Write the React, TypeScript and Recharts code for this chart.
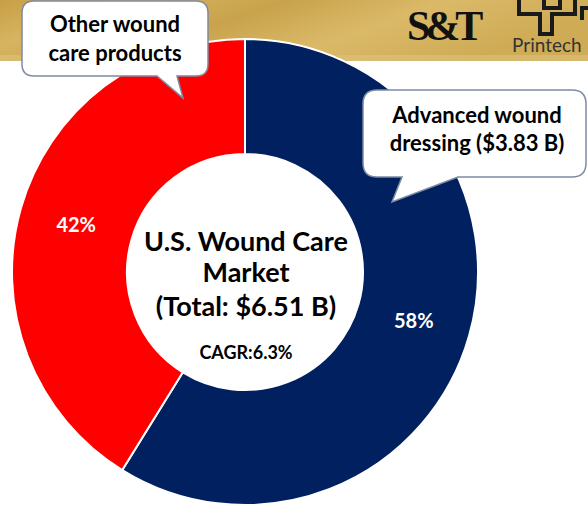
import { PieChart, Pie, Cell } from 'recharts';

// U.S. wound care market split, $ billions
const segments = ['Advanced wound dressing', 'Other wound care products'];
const values = [3.83, 2.68];
const pctLabels = ['58%', '42%'];
const colors = ['#002060', '#FF0000'];

const titleLines = ['U.S. Wound Care', 'Market', '(Total: $6.51 B)'];
const cagrText = 'CAGR:6.3%';
const otherCallout = ['Other wound', 'care products'];
const advCallout = ['Advanced wound', 'dressing ($3.83 B)'];

const data = segments.map((name, i) => ({ name, value: values[i], pct: pctLabels[i] }));

const RADIAN = Math.PI / 180;
const FONT = 'Lato, "Open Sans", sans-serif';

const renderPct = ({ cx, cy, midAngle, innerRadius, outerRadius, index }: any) => {
  const r = (innerRadius + outerRadius) / 2;
  const x = cx + r * Math.cos(-midAngle * RADIAN);
  const y = cy + r * Math.sin(-midAngle * RADIAN);
  return (
    <text x={x} y={y} fill="#fff" fontSize={20} fontWeight={700} fontFamily={FONT}
      textAnchor="middle" dominantBaseline="central">
      {data[index].pct}
    </text>
  );
};

const Header = () => (
  <svg width={588} height={506} style={{ position: 'absolute', left: 0, top: 0 }}>
    <defs>
      <linearGradient id="gold" x1="0" y1="0" x2="1" y2="0.3">
        <stop offset="0" stopColor="#C79F45" />
        <stop offset="0.2" stopColor="#D6B461" />
        <stop offset="0.45" stopColor="#C9A34C" />
        <stop offset="0.7" stopColor="#DAB968" />
        <stop offset="1" stopColor="#CFAB55" />
      </linearGradient>
    </defs>
    <rect x={0} y={0} width={588} height={61} fill="url(#gold)" />
    <rect x={0} y={55} width={588} height={6} fill="#DCC37E" opacity={0.6} />
    <text x={407} y={40} fontFamily='"Liberation Serif", serif' fontWeight={700} fontSize={42}
      letterSpacing={-5} fill="#111">S&amp;T</text>
    <g fill="none" stroke="#1a1a1a" strokeWidth={4}>
      <path d="M519 -2 V14 H540 V34 H552 V14 H575 V-2" />
      <path d="M544 -2 V8 H560 V-2" />
      <path d="M588 8 H582 V20" />
    </g>
    <text x={512} y={52} fontFamily={FONT} fontSize={19} fill="#333">Printech</text>
  </svg>
);

const Overlay = () => (
  <svg width={588} height={506} style={{ position: 'absolute', left: 0, top: 0 }}>
    <g fontFamily={FONT} fontWeight={700} fill="#000" textAnchor="middle">
      <text x={246} y={251} fontSize={27}>{titleLines[0]}</text>
      <text x={246} y={282} fontSize={27}>{titleLines[1]}</text>
      <text x={246} y={316} fontSize={27}>{titleLines[2]}</text>
      <text x={246} y={359} fontSize={18}>{cagrText}</text>
    </g>
    <path
      d="M34 1 H196 Q208 1 208 13 V64 Q208 76 196 76 H177 L183 98 L157 76 H34 Q22 76 22 64 V13 Q22 1 34 1 Z"
      fill="#fff" stroke="#7d8ba3" strokeWidth={1.5}
    />
    <path
      d="M377 90 H572 Q586 90 586 104 V163 Q586 177 572 177 H458 L392 202 L402 177 H377 Q363 177 363 163 V104 Q363 90 377 90 Z"
      fill="#fff" stroke="#7d8ba3" strokeWidth={1.5}
    />
    <g fontFamily={FONT} fontWeight={700} fill="#000" textAnchor="middle" fontSize={22}>
      <text x={115} y={32}>{otherCallout[0]}</text>
      <text x={115} y={61}>{otherCallout[1]}</text>
      <text x={477} y={123}>{advCallout[0]}</text>
      <text x={477} y={151}>{advCallout[1]}</text>
    </g>
  </svg>
);

export default function App() {
  return (
    <div style={{ position: 'absolute', left: 0, top: 0, width: 588, height: 506, background: '#fff', overflow: 'hidden' }}>
      <Header />
      <div style={{ position: 'absolute', left: 0, top: 0 }}>
        <PieChart width={588} height={506} margin={{ top: 0, right: 0, bottom: 0, left: 0 }}>
          <Pie
            data={data}
            dataKey="value"
            nameKey="name"
            cx={245}
            cy={272}
            innerRadius={118}
            outerRadius={233}
            startAngle={90}
            endAngle={-270}
            stroke="#fff"
            strokeWidth={2}
            labelLine={false}
            label={renderPct}
            isAnimationActive={false}
          >
            {data.map((d, i) => (
              <Cell key={d.name} fill={colors[i]} />
            ))}
          </Pie>
        </PieChart>
      </div>
      <Overlay />
    </div>
  );
}
